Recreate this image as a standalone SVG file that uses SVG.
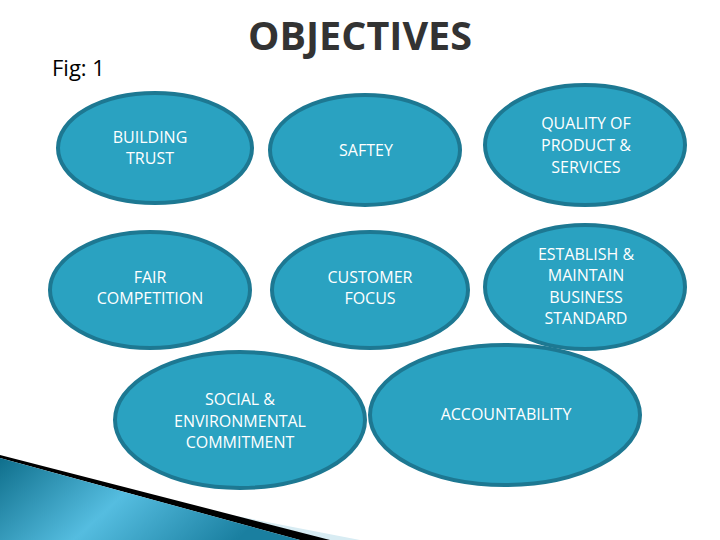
<svg xmlns="http://www.w3.org/2000/svg" width="720" height="540" viewBox="0 0 720 540">
<style>
.n{fill:#2aa2c1;stroke:#1d7892;stroke-width:4}
.t{font-family:"Open Sans","Noto Sans",sans-serif;font-size:16px;fill:#fff;text-anchor:middle}
</style>
<defs>
<linearGradient id="g" x1="0" y1="0" x2="1" y2="0.3">
<stop offset="0" stop-color="#0f6f8c"/><stop offset="0.5" stop-color="#55bde0"/><stop offset="1" stop-color="#1a7fa0"/>
</linearGradient>
</defs>
<rect width="720" height="540" fill="#fff"/>
<polygon points="0,470 360,540 0,540" fill="#d8ecf3"/>
<polygon points="0,455 0,458 300,540 330,540" fill="#000"/>
<polygon points="0,458 0,540 300,540" fill="url(#g)"/>
<text x="52" y="76" font-family="Open Sans,sans-serif" font-size="22" fill="#000">Fig: 1</text>
<text x="248" y="50" font-family="Open Sans,sans-serif" font-size="40" fill="#333" font-weight="bold" textLength="224" lengthAdjust="spacingAndGlyphs">OBJECTIVES</text>
<g id="building"><ellipse class="n" cx="155" cy="148" rx="97" ry="55"/><text class="t" x="150" y="143">BUILDING</text><text class="t" x="150" y="164">TRUST</text></g>
<g id="saftey"><ellipse class="n" cx="365" cy="150" rx="95" ry="55"/><text class="t" x="366" y="156">SAFTEY</text></g>
<g id="quality"><ellipse class="n" cx="585" cy="145" rx="100" ry="60"/><text class="t" x="586" y="129">QUALITY OF</text><text class="t" x="586" y="151">PRODUCT &amp;</text><text class="t" x="586" y="173">SERVICES</text></g>
<g id="fair"><ellipse class="n" cx="150" cy="290" rx="100" ry="58"/><text class="t" x="150" y="283">FAIR</text><text class="t" x="150" y="304">COMPETITION</text></g>
<g id="customer"><ellipse class="n" cx="370" cy="290" rx="98" ry="58"/><text class="t" x="370" y="283">CUSTOMER</text><text class="t" x="370" y="304">FOCUS</text></g>
<g id="establish"><ellipse class="n" cx="585" cy="287" rx="100" ry="62"/><text class="t" x="586" y="260">ESTABLISH &amp;</text><text class="t" x="586" y="281">MAINTAIN</text><text class="t" x="586" y="303">BUSINESS</text><text class="t" x="586" y="324">STANDARD</text></g>
<g id="social"><ellipse class="n" cx="240" cy="420" rx="125" ry="68"/><text class="t" x="240" y="405">SOCIAL &amp;</text><text class="t" x="240" y="427">ENVIRONMENTAL</text><text class="t" x="240" y="448">COMMITMENT</text></g>
<g id="accountability"><ellipse class="n" cx="505" cy="415" rx="135" ry="70"/><text class="t" x="506" y="420">ACCOUNTABILITY</text></g>
<g id="connectors"/>
</svg>
